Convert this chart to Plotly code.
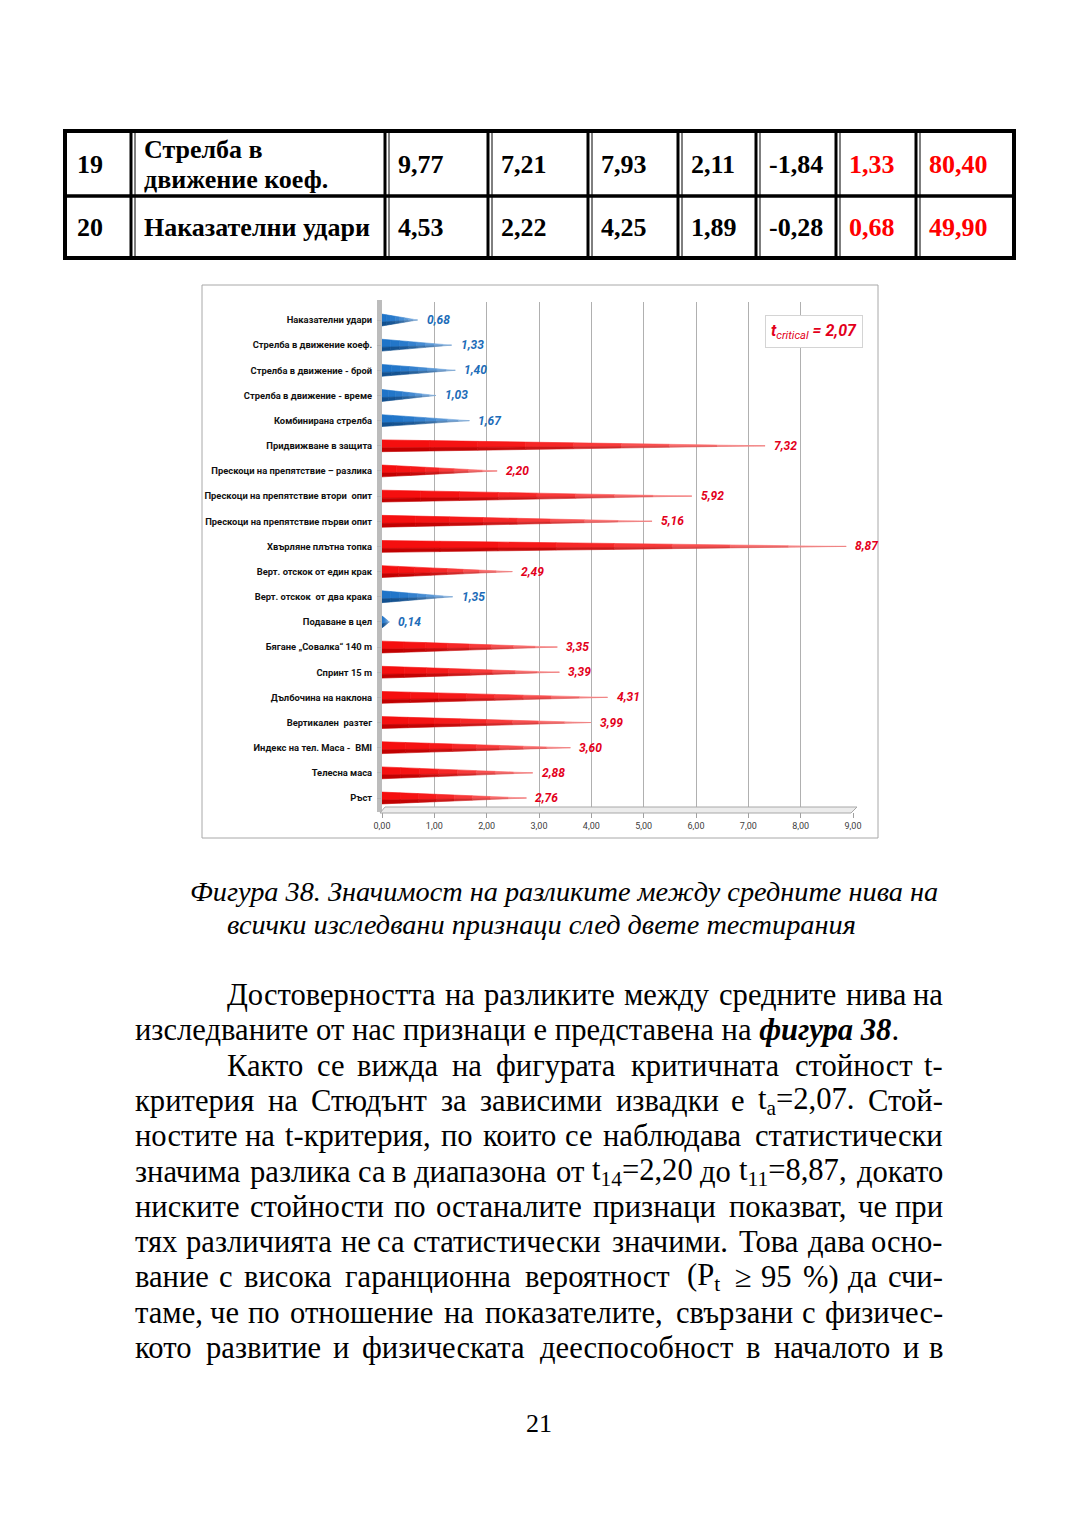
import re
import plotly.graph_objects as go

W, H = 1080, 1530

# ---------------- data ----------------
categories = [
    "Наказателни удари",
    "Стрелба в движение коеф.",
    "Стрелба в движение - брой",
    "Стрелба в движение - време",
    "Комбинирана стрелба",
    "Придвижване в защита",
    "Прескоци на препятствие – разлика",
    "Прескоци на препятствие втори  опит",
    "Прескоци на препятствие първи опит",
    "Хвърляне плътна топка",
    "Верт. отскок от един крак",
    "Верт. отскок  от два крака",
    "Подаване в цел",
    "Бягане „Совалка“ 140 m",
    "Спринт 15 m",
    "Дълбочина на наклона",
    "Вертикален  разтег",
    "Индекс на тел. Маса -  BMI",
    "Телесна маса",
    "Ръст",
]
t_values = [0.68, 1.33, 1.40, 1.03, 1.67, 7.32, 2.20, 5.92, 5.16, 8.87,
            2.49, 1.35, 0.14, 3.35, 3.39, 4.31, 3.99, 3.60, 2.88, 2.76]
t_critical = 2.07
x_tick_values = [0, 1, 2, 3, 4, 5, 6, 7, 8, 9]

table_numbers = ["19", "20"]
table_names = [["Стрелба в", "движение коеф."], ["Наказателни удари"]]
table_values = [
    ["9,77", "7,21", "7,93", "2,11", "-1,84", "1,33", "80,40"],
    ["4,53", "2,22", "4,25", "1,89", "-0,28", "0,68", "49,90"],
]

caption_lines = [
    "Фигура 38. Значимост на разликите между средните нива на",
    "всички изследвани признаци след двете тестирания",
]
body_lines = [
    "Достоверността на разликите между средните нива на",
    "изследваните от нас признаци е представена на <b><i>фигура 38</i></b>.",
    "Както се вижда на фигурата критичната стойност t-",
    "критерия на Стюдънт за зависими извадки е t<sub>a</sub>=2,07. Стой-",
    "ностите на t-критерия, по които се наблюдава статистически",
    "значима разлика са в диапазона от t<sub>14</sub>=2,20 до t<sub>11</sub>=8,87, докато",
    "ниските стойности по останалите признаци показват, че при",
    "тях различията не са статистически значими. Това дава осно-",
    "вание с висока гаранционна вероятност (P<sub>t</sub> ≥ 95 %) да счи-",
    "таме, че по отношение на показателите, свързани с физичес-",
    "кото развитие и физическата дееспособност в началото и в",
]
page_number = "21"

# ---------------- helpers (page pixel -> paper) ----------------
OFF = 8  # page body margin of the html page

def px(x):
    return (x - OFF) / W

def py(y):
    return 1 - (y - OFF) / H

def mix(c1, c2, t):
    a = [int(c1[i:i + 2], 16) for i in (1, 3, 5)]
    b = [int(c2[i:i + 2], 16) for i in (1, 3, 5)]
    return "#" + "".join(f"{round(x + (y - x) * t):02x}" for x, y in zip(a, b))

PALETTE = {
    "red": ("#f50f0f", "#c20000", "#ffb4b4"),
    "blue": ("#1f74c8", "#12508f", "#b4d0ee"),
}
LBL_RED = "#e3001b"
LBL_BLUE = "#1c6cb8"

fig = go.Figure()

# ---------------- cone bars (segmented for a fading tip) ----------------
half = 0.235
mid = 0.35 * half
K = 8
for key, (c_top, c_bot, c_tip) in PALETTE.items():
    for k in range(K):
        a, b = k / K, (k + 1) / K
        xs_u, ys_u, xs_l, ys_l = [], [], [], []
        for i, v in enumerate(t_values):
            if (v > t_critical) != (key == "red"):
                continue
            xs_u += [a * v, b * v, b * v, a * v, a * v, None]
            ys_u += [i - half * (1 - a), i - half * (1 - b), i + mid * (1 - b), i + mid * (1 - a),
                     i - half * (1 - a), None]
            xs_l += [a * v, b * v, b * v, a * v, a * v, None]
            ys_l += [i + mid * (1 - a), i + mid * (1 - b), i + half * (1 - b), i + half * (1 - a),
                     i + mid * (1 - a), None]
        t = ((a + b) / 2) ** 2.2
        cu = mix(c_top, c_tip, t * 0.9)
        cl = mix(c_bot, c_tip, t * 0.8)
        fig.add_trace(go.Scatter(x=xs_u, y=ys_u, mode="lines", fill="toself",
                                 fillcolor=cu, line=dict(width=0.6, color=cu),
                                 hoverinfo="skip", showlegend=False))
        fig.add_trace(go.Scatter(x=xs_l, y=ys_l, mode="lines", fill="toself",
                                 fillcolor=cl, line=dict(width=0.6, color=cl),
                                 hoverinfo="skip", showlegend=False))

# value labels
for i, v in enumerate(t_values):
    fig.add_annotation(
        x=v, y=i, xref="x", yref="y", xanchor="left", yanchor="middle",
        xshift=7, showarrow=False,
        text="<b><i>" + f"{v:.2f}".replace(".", ",") + "</i></b>",
        font=dict(family="Roboto, Liberation Sans", size=12,
                  color=LBL_RED if v > t_critical else LBL_BLUE),
    )

n = len(categories)
step = (798 - 320) / (n - 1)
y_top = -(320 - 302) / step
y_bot = (n - 1) + (812 - 798) / step

fig.update_layout(
    width=W, height=H,
    margin=dict(l=0, r=0, t=0, b=0, autoexpand=False),
    paper_bgcolor="white", plot_bgcolor="white",
    separators=", ",
    showlegend=False,
    xaxis=dict(
        domain=[px(382), px(853)], range=[0, 9], automargin=False,
        tickvals=x_tick_values, tickformat=".2f",
        showgrid=True, gridcolor="#b0b0b0", gridwidth=1,
        zeroline=False, showline=False,
        ticks="outside", ticklen=5, tickcolor="#a0a0a0",
        tickfont=dict(family="Roboto, Liberation Sans", size=9, color="#404040"),
        fixedrange=True,
    ),
    yaxis=dict(
        domain=[py(812), py(302)], range=[y_bot, y_top], automargin=False,
        tickvals=list(range(n)), ticktext=categories,
        showgrid=False, zeroline=False, showline=False,
        ticks="outside", ticklen=4, tickcolor="#b0b0b0",
        ticklabelstandoff=3,
        tickfont=dict(family="Roboto, Liberation Sans", size=9.4, color="#111111", weight="bold"),
        fixedrange=True,
    ),
)

shapes = []
# chart frame
shapes.append(dict(type="rect", xref="paper", yref="paper",
                   x0=px(202), x1=px(878), y0=py(838), y1=py(285),
                   line=dict(color="#a8a8a8", width=1), fillcolor="rgba(0,0,0,0)", layer="below"))
# left wall
shapes.append(dict(type="rect", xref="paper", yref="paper",
                   x0=px(377), x1=px(382), y0=py(812), y1=py(300),
                   line=dict(width=0), fillcolor="#bcbcbc", layer="below"))
# floor
shapes.append(dict(type="path", xref="paper", yref="paper",
                   path=f"M{px(380)},{py(813)} L{px(851)},{py(813)} L{px(857)},{py(807)} L{px(385)},{py(807)} Z",
                   line=dict(color="#a8a8a8", width=1), fillcolor="#ececec", layer="above"))

# ---------------- table ----------------
col_x = [65, 133, 387, 490, 590, 680, 758, 838, 918, 1014]
row_y = [131, 196, 258]
shapes.append(dict(type="rect", xref="paper", yref="paper",
                   x0=px(col_x[0]), x1=px(col_x[-1]), y0=py(row_y[-1]), y1=py(row_y[0]),
                   line=dict(color="black", width=4), fillcolor="rgba(0,0,0,0)"))
for x in col_x[1:-1]:
    shapes.append(dict(type="line", xref="paper", yref="paper",
                       x0=px(x - 2), x1=px(x - 2), y0=py(row_y[-1]), y1=py(row_y[0]),
                       line=dict(color="black", width=3)))
    shapes.append(dict(type="line", xref="paper", yref="paper",
                       x0=px(x + 2), x1=px(x + 2), y0=py(row_y[-1]), y1=py(row_y[0]),
                       line=dict(color="black", width=1)))
shapes.append(dict(type="line", xref="paper", yref="paper",
                   x0=px(col_x[0]), x1=px(col_x[-1]), y0=py(row_y[1]), y1=py(row_y[1]),
                   line=dict(color="black", width=3.5)))
fig.update_layout(shapes=shapes)

TFONT = dict(family="Liberation Serif", size=26, color="black", weight="bold")
annotations = []
for r in range(2):
    yc = (row_y[r] + row_y[r + 1]) / 2 + 1
    annotations.append(dict(x=px(col_x[0] + 10), y=py(yc), xanchor="left", yanchor="middle",
                            text=table_numbers[r], font=TFONT))
    names = table_names[r]
    if len(names) == 1:
        annotations.append(dict(x=px(col_x[1] + 9), y=py(yc), xanchor="left", yanchor="middle",
                                text=names[0], font=TFONT))
    else:
        for k, nm in enumerate(names):
            annotations.append(dict(x=px(col_x[1] + 9), y=py(yc - 15 + 30 * k), xanchor="left",
                                    yanchor="middle", text=nm, font=TFONT))
    for c, val in enumerate(table_values[r]):
        f = dict(TFONT)
        if c >= 5:
            f["color"] = "#ff0000"
        annotations.append(dict(x=px(col_x[c + 2] + 9), y=py(yc), xanchor="left", yanchor="middle",
                                text=val, font=f))

# t critical box
annotations.append(dict(
    x=px(814), y=py(331), xanchor="center", yanchor="middle",
    text=f"<b><i>t</i></b><sub><i>critical</i></sub><b><i> = {t_critical:.2f}</i></b>".replace(".", ","),
    font=dict(family="Roboto, Liberation Sans", size=16, color=LBL_RED),
    bordercolor="#d4d4d4", borderwidth=1, borderpad=5, bgcolor="white",
))

# caption
CFONT = dict(family="Liberation Serif", size=28.3, color="black", style="italic")
annotations.append(dict(x=px(188), y=py(892), xanchor="left", yanchor="middle",
                        text=caption_lines[0], font=CFONT))
annotations.append(dict(x=px(225), y=py(924), xanchor="left", yanchor="middle",
                        text=caption_lines[1], font=CFONT))

# body text (justified word by word)
BFONT = dict(family="Liberation Serif", size=30.6, color="black")
widths = {
    "а": .444, "б": .509, "в": .472, "г": .410, "д": .509, "е": .444, "ж": .691, "з": .395,
    "и": .535, "й": .535, "к": .485, "л": .503, "м": .623, "н": .535, "о": .5, "п": .535,
    "р": .5, "с": .444, "т": .437, "у": .5, "ф": .648, "х": .5, "ц": .535, "ч": .503,
    "ш": .770, "щ": .770, "ъ": .517, "ы": .672, "ь": .456, "э": .429, "ю": .747, "я": .486,
    ",": .25, ".": .25, "-": .333, "(": .333, ")": .333, "=": .564, "%": .833, "≥": .549,
    "t": .278, " ": .25,
}

def word_width(word, size):
    plain = re.sub(r"<sub>(.*?)</sub>", lambda m: "\x00" * len(m.group(1)), word)
    plain = re.sub(r"<[^>]+>", "", plain)
    w = 0.0
    for ch in plain:
        if ch == "\x00":
            w += 0.5 * 0.7
        elif ch.isdigit():
            w += 0.5
        elif ch in widths:
            w += widths[ch]
        elif ch.isupper():
            w += 0.68
        else:
            w += 0.5
    return w * size * 1.03

line_y0 = 995
line_dy = 35.3
left_margin, right_margin, indent = 133, 945, 225
indented = {0, 2}
not_justified = {1}
for k, line in enumerate(body_lines):
    yc = line_y0 + k * line_dy
    lx = indent if k in indented else left_margin
    if k in not_justified:
        annotations.append(dict(x=px(lx), y=py(yc), xanchor="left", yanchor="middle",
                                text=line, font=BFONT))
        continue
    words = line.replace("<b><i>фигура 38</i></b>", "<b><i>фигура\u00a038</i></b>").split(" ")
    ws = [word_width(w, BFONT["size"]) for w in words]
    gap = (right_margin - lx - sum(ws)) / (len(words) - 1)
    x = lx
    for j, (w, ww) in enumerate(zip(words, ws)):
        if j == 0:
            annotations.append(dict(x=px(lx), y=py(yc), xanchor="left", yanchor="middle",
                                    text=w, font=BFONT))
        elif j == len(words) - 1:
            annotations.append(dict(x=px(right_margin), y=py(yc), xanchor="right", yanchor="middle",
                                    text=w, font=BFONT))
        else:
            annotations.append(dict(x=px(x + ww / 2), y=py(yc), xanchor="center", yanchor="middle",
                                    text=w, font=BFONT))
        x += ww + gap

annotations.append(dict(x=px(539), y=py(1423), xanchor="center", yanchor="middle",
                        text=page_number, font=dict(family="Liberation Serif", size=26, color="black")))

for a in annotations:
    a.setdefault("xref", "paper")
    a.setdefault("yref", "paper")
    a.setdefault("showarrow", False)
    fig.add_annotation(**a)

fig.write_html("out.html")
